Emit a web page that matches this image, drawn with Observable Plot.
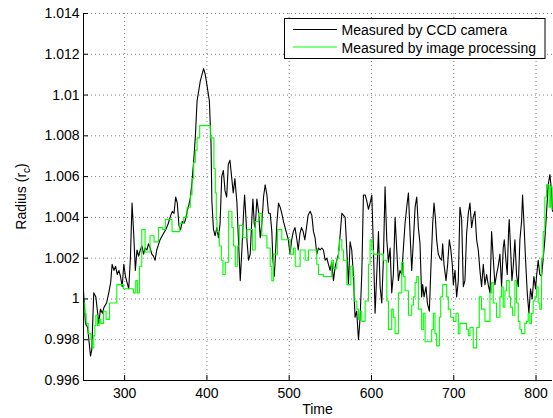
<!DOCTYPE html>
<html><head><meta charset="utf-8">
<script src="https://cdn.jsdelivr.net/npm/d3@7"></script>
<script src="https://cdn.jsdelivr.net/npm/@observablehq/plot@0.6"></script>
<style>
body{margin:0;background:#fff;}
#chart{position:relative;width:553px;height:418px;}
svg{display:block;}
</style></head><body><div id="chart"></div>
<script>
// ---- data ----
const ccdTime = [250,252.4,255,258.5,260,262.5,265,268.6,270.6,273,275,278,280.7,283,284.8,287,289,291,293,295,297,299,301,303,305,307,309,311,313,315,317,319,321,323,325,327,329,331,333,335,337,339,343,347,350,353,356,358,360,362,364,366,368,370,372,374,376,378,380,382,384,386,388,390,392,394,396,398,400,403,405,406,408,410,412,414,416,418,420,422,424,426,428,430,432,434,436.5,438,440.5,442.5,444.5,445.8,447.4,448.6,450.6,452.6,454.7,455.9,457.5,458.7,460.7,462.7,464.8,466.8,468.8,470.8,472.9,474.9,476.9,478.9,480.1,481.8,483,485,487,489,491,493,495,497,499,501,503,505,507,509,511,513,515,517,519,521,523,525.5,527.5,529.5,531.5,533.5,535.6,537.6,539.6,541.6,543.7,545.7,547.7,549.7,551.7,553.8,555.9,557.9,559.9,562,564,566,568,570,572,574,576,578,580,582,584.2,586.2,588.2,590.2,592.3,594.3,596.3,598.3,600.4,602.4,604.4,606.4,608.5,610.5,612.5,614.5,616.5,618.6,620.6,622.6,624.6,626.6,628.7,630.7,632.7,634.7,636.8,638.8,640.8,642.8,644.9,646.9,648.9,651,653,655,657,659,661,662.2,663.9,666.3,667.9,670.3,672.3,674.4,676,677.6,679.2,681.2,683.3,685.3,686.5,688.1,690.6,692.6,694.6,696.2,698.2,699.5,701.5,703.5,705.5,707.5,709.6,711.6,713.6,715.6,717.7,719.7,721.7,723.7,725.7,727.8,729.8,731.8,733.8,735.9,737.9,739.9,741.9,744,746,748,750,752,754,756.1,758.1,760.1,761.4,763.4,765,766.6,767.4,769,770.7,772.3,774.3,776.3,778.4,780.4,782.4,783.6,785.2,787.3,789.3,791.3,793.3,795.3,797.4,799.4,800.6,802.6,804.6,806.7,808.7,810.7,812.7,814.8,816.8,818.8,820];
const ccdRadius = [1.0004,0.9988,0.9986,0.9972,0.9975,1.0003,1.0001,0.9988,0.9995,0.9993,0.9996,0.9998,1.0003,1.0008,1.0017,1.0014,1.0016,1.0012,1.0014,1.0011,1.0006,1.0017,1.0011,1.0008,1.0005,1.0020,1.0047,1.0032,1.0014,1.0024,1.0021,1.0024,1.0026,1.0022,1.0025,1.0024,1.0027,1.0025,1.0022,1.0021,1.0019,1.0024,1.0029,1.0032,1.0034,1.0037,1.0041,1.0043,1.0042,1.0050,1.0047,1.0036,1.0034,1.0038,1.0037,1.0039,1.0043,1.0046,1.0050,1.0058,1.0068,1.0080,1.0097,1.0102,1.0107,1.0110,1.0113,1.0110,1.0105,1.0097,1.0076,1.0048,1.0034,1.0031,1.0035,1.0030,1.0037,1.0060,1.0063,1.0053,1.0050,1.0066,1.0068,1.0060,1.0052,1.0059,1.0047,1.0032,1.0009,1.0024,1.0042,1.0051,1.0040,1.0029,1.0019,1.0022,1.0040,1.0049,1.0037,1.0035,1.0049,1.0043,1.0030,1.0037,1.0050,1.0056,1.0051,1.0042,1.0042,1.0033,1.0020,1.0011,1.0019,1.0037,1.0047,1.0045,1.0042,1.0038,1.0035,1.0032,1.0029,1.0022,1.0029,1.0033,1.0035,1.0030,1.0024,1.0032,1.0035,1.0033,1.0029,1.0035,1.0041,1.0043,1.0041,1.0033,1.0030,1.0022,1.0025,1.0024,1.0025,1.0024,1.0019,1.0020,1.0017,1.0014,1.0018,1.0009,1.0016,1.0019,1.0022,1.0032,1.0042,1.0041,1.0040,1.0024,1.0007,1.0028,1.0024,1.0012,0.9991,0.9994,0.9980,0.9991,1.0012,1.0051,1.0051,1.0048,1.0044,1.0047,1.0051,1.0024,0.9993,1.0012,1.0033,1.0006,0.9998,1.0020,1.0055,1.0029,1.0018,1.0025,1.0003,1.0012,1.0040,1.0024,1.0009,1.0014,1.0012,1.0025,1.0037,1.0045,1.0052,1.0032,1.0014,1.0029,1.0045,1.0050,1.0035,1.0027,1.0001,1.0007,1.0001,1.0006,0.9998,0.9994,1.0016,1.0037,1.0047,1.0040,1.0029,1.0022,1.0020,1.0019,1.0027,1.0017,1.0009,1.0017,1.0029,1.0025,1.0017,1.0007,1.0014,1.0001,1.0009,1.0045,1.0039,1.0006,1.0009,1.0032,1.0042,1.0047,1.0035,1.0040,1.0043,1.0029,1.0024,1.0014,1.0006,1.0017,1.0007,1.0012,1.0007,1.0003,1.0033,1.0020,1.0007,1.0012,1.0016,1.0022,1.0006,1.0025,1.0029,1.0019,1.0012,1.0033,1.0039,1.0025,1.0009,1.0016,1.0029,1.0012,1.0006,1.0029,1.0038,1.0051,1.0038,1.0019,1.0003,0.9993,1.0005,1.0000,1.0011,1.0005,1.0011,1.0019,1.0012,1.0011,1.0020,1.0029,1.0042,1.0056,1.0061,1.0053,1.0043];

const imgTime = [250,251.6,253.2,255.7,258.9,260.5,262.5,263.8,265,267,269,271,274.3,277.5,281.6,290.5,298.5,310.7,313.5,315.5,318,320.8,324.8,330.9,335.8,341,346.3,349.5,357.6,367,371.8,375.8,379.8,381.9,383.9,385.9,388,391.2,404.1,408.5,410.2,411.4,412.2,415,417.5,419.5,422.3,426.4,430.4,432.4,434.5,437.3,439.3,443.7,448.6,455.5,458.7,462.7,466.8,472.9,476.9,478.9,481,485.8,491,501.2,505.2,507.3,513.3,519.4,523.4,533.5,535.6,541.6,551.7,553.8,557.9,559.9,561,564,566,570,574.9,577.3,578.9,582.2,584.2,586.2,588.2,592.3,596.3,598.3,600.4,602.5,614.5,618.6,620.6,624.6,626.5,628.7,632.7,636.8,638.8,640.8,644.9,648.9,651,653,655,657,659,661,663,665.1,673.2,675.2,677.2,679.2,682.5,684.1,686.5,691.4,693.4,696.2,699.5,702.7,705.5,707.5,715.6,717.7,719.7,723.7,727.8,731,733.8,737.9,744,746,748,752,756.1,758.1,760.1,762.2,764.2,767.4,769,771.5,774.3,776.3,778.4,780.4,782.4,786.4,788.5,790.5,792.5,794.5,796.5,798.6,800.6,802.6,804.6,806.7,808.7,810.7,812.7,816,817.6,819.5,820];
const imgRadius = [0.9998,0.9993,0.9988,0.9983,0.9980,0.9976,0.9982,0.9987,0.9992,0.9987,0.9990,0.9988,0.9994,0.9990,0.9998,1.0007,1.0005,1.0003,1.0009,1.0003,1.0016,1.0034,1.0023,1.0031,1.0028,1.0035,1.0034,1.0039,1.0033,1.0037,1.0040,1.0045,1.0051,1.0059,1.0067,1.0073,1.0079,1.0085,1.0079,1.0064,1.0052,1.0039,1.0033,1.0026,1.0019,1.0012,1.0018,1.0043,1.0035,1.0026,1.0016,1.0026,1.0036,1.0030,1.0034,1.0024,1.0038,1.0042,1.0031,1.0025,1.0016,1.0009,1.0022,1.0034,1.0029,1.0022,1.0025,1.0016,1.0024,1.0019,1.0024,1.0017,1.0012,1.0011,1.0019,1.0015,1.0020,1.0024,1.0029,1.0024,1.0019,1.0007,1.0016,1.0011,0.9999,0.9995,0.9990,0.9994,0.9989,0.9999,1.0017,1.0029,1.0024,1.0022,1.0019,0.9999,0.9985,0.9995,0.9991,0.9983,1.0003,1.0018,1.0011,1.0004,0.9992,0.9997,1.0001,1.0008,1.0011,0.9995,0.9995,0.9985,0.9993,0.9979,0.9985,0.9993,0.9983,0.9977,0.9991,1.0001,1.0007,1.0001,0.9995,0.9991,0.9989,0.9993,0.9983,0.9988,0.9985,0.9982,0.9986,0.9976,0.9986,1.0001,0.9995,0.9989,1.0003,1.0008,0.9998,0.9991,1.0001,1.0006,0.9996,1.0004,1.0009,1.0001,0.9996,0.9992,1.0009,0.9998,0.9989,0.9985,0.9983,0.9988,0.9989,0.9993,0.9988,0.9993,0.9999,1.0001,1.0006,0.9998,0.9995,1.0020,1.0033,1.0050,1.0056,1.0045,1.0055,1.0044,1.0044];

const xTicks = [300, 400, 500, 600, 700, 800];
const yTicks = [0.996, 0.998, 1.000, 1.002, 1.004, 1.006, 1.008, 1.010, 1.012, 1.014];
const yTickLabels = ["0.996", "0.998", "1", "1.002", "1.004", "1.006", "1.008", "1.01", "1.012", "1.014"];
const seriesNames = ["Measured by CCD camera", "Measured by image processing"];
const seriesColors = ["#000000", "#00ff00"];
const xLabel = "Time";
const yLabel = "Radius (r";
const yLabelSub = "c";

// ---- build ----
const ccd = ccdTime.map((t, i) => ({t, r: ccdRadius[i]}));
const img = imgTime.map((t, i) => ({t, r: imgRadius[i]}));

const W = 553, H = 418, mL = 83, mR = 1, mT = 13, mB = 38;
const plotW = W - mL - mR, plotH = H - mT - mB;
const font = "'Liberation Sans', Arial, Helvetica, sans-serif";
const gridStyle = {stroke: "#000", strokeOpacity: 0.5, strokeDasharray: "1,3", strokeWidth: 1};

const chart = Plot.plot({
  width: W, height: H,
  marginLeft: mL, marginRight: mR, marginTop: mT, marginBottom: mB,
  style: {fontFamily: font, fontSize: "14px", background: "#fff", color: "#000"},
  x: {domain: [250, 820]},
  y: {domain: [0.996, 1.014]},
  marks: [
    Plot.ruleX(xTicks, gridStyle),
    Plot.ruleY(yTicks, gridStyle),
    Plot.line(ccd, {x: "t", y: "r", stroke: seriesColors[0], strokeWidth: 1.1}),
    Plot.line(img, {x: "t", y: "r", stroke: seriesColors[1], strokeWidth: 1.1, curve: "step-after"}),
    Plot.tickX(xTicks, {x: d => d, insetTop: plotH - 5, stroke: "#000"}),
    Plot.tickY(yTicks, {y: d => d, insetRight: plotW - 5, stroke: "#000"}),
    Plot.ruleX([250], {stroke: "#000", strokeWidth: 1}),
    Plot.ruleY([0.996], {stroke: "#000", strokeWidth: 1}),
    Plot.axisX({ticks: xTicks, tickSize: 0, tickPadding: 8, fontSize: 14, label: null, tickFormat: d => String(d)}),
    Plot.axisY({ticks: yTicks, tickSize: 0, tickPadding: 4, fontSize: 14, label: null,
      tickFormat: d => yTickLabels[yTicks.indexOf(d)]})
  ]
});
document.getElementById("chart").appendChild(chart);

const svg = d3.select(chart);
// axis titles
svg.append("text").attr("x", mL + plotW / 2).attr("y", 414).attr("text-anchor", "middle")
  .style("font-family", font).style("font-size", "14px").attr("fill", "#000").text(xLabel);
const yl = svg.append("text").attr("transform", `translate(26,${mT + plotH / 2}) rotate(-90)`)
  .attr("text-anchor", "middle").style("font-family", font).style("font-size", "14px").attr("fill", "#000");
yl.append("tspan").text(yLabel);
yl.append("tspan").attr("font-size", "10px").attr("dy", 4).text(yLabelSub);
yl.append("tspan").attr("dy", -4).text(")");

// legend
const lg = svg.append("g").attr("text-anchor", "start");
lg.append("rect").attr("x", 284.5).attr("y", 18.5).attr("width", 260.5).attr("height", 40)
  .attr("fill", "#fff").attr("stroke", "#000").attr("stroke-width", 1);
seriesNames.forEach((name, i) => {
  const ly = 29.5 + i * 17.5;
  lg.append("line").attr("x1", 293).attr("x2", 337).attr("y1", ly).attr("y2", ly)
    .attr("stroke", seriesColors[i]).attr("stroke-width", 1);
  lg.append("text").attr("x", 341.5).attr("y", ly + 5.5).attr("text-anchor", "start")
    .style("font-family", font).style("font-size", "14px").attr("fill", "#000").text(name);
});
</script>
</body></html>
